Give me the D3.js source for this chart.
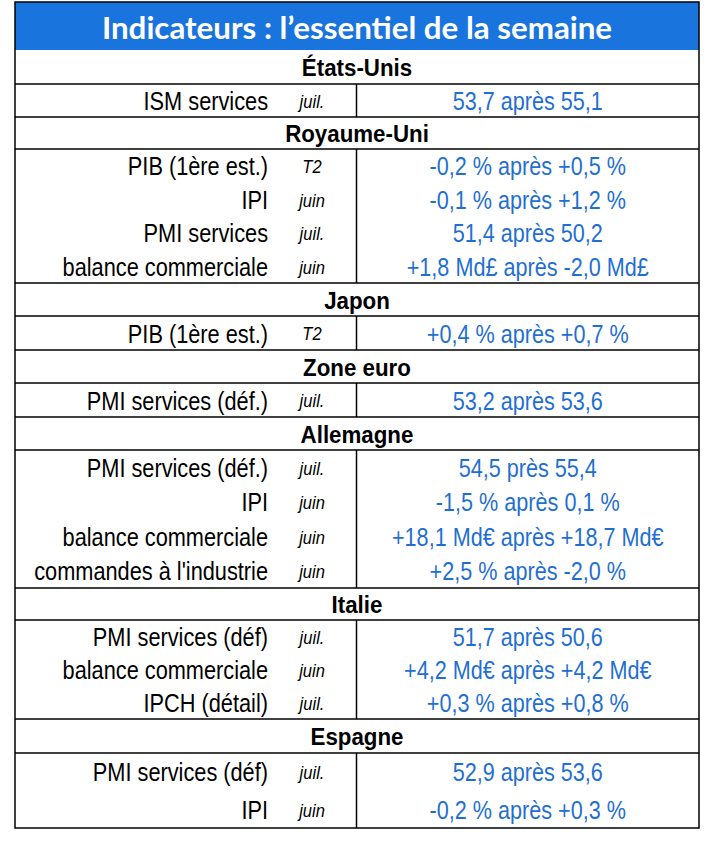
<!DOCTYPE html>
<html><head><meta charset="utf-8">
<script src="https://cdn.jsdelivr.net/npm/d3@7"></script>
<style>
html,body{margin:0;padding:0;background:#fff;}
svg{display:block;}
</style></head>
<body>
<script>
// ---- Data ----
const title = "Indicateurs : l\u2019essentiel de la semaine";
const countries = ["États-Unis","Royaume-Uni","Japon","Zone euro","Allemagne","Italie","Espagne"];
const indicators = [
  ["ISM services"],
  ["PIB (1ère est.)","IPI","PMI services","balance commerciale"],
  ["PIB (1ère est.)"],
  ["PMI services (déf.)"],
  ["PMI services (déf.)","IPI","balance commerciale","commandes à l'industrie"],
  ["PMI services (déf)","balance commerciale","IPCH (détail)"],
  ["PMI services (déf)","IPI"]
];
const periods = [
  ["juil."],
  ["T2","juin","juil.","juin"],
  ["T2"],
  ["juil."],
  ["juil.","juin","juin","juin"],
  ["juil.","juin","juil."],
  ["juil.","juin"]
];
const values = [
  ["53,7 après 55,1"],
  ["-0,2 % après +0,5 %","-0,1 % après +1,2 %","51,4 après 50,2","+1,8 Md£ après -2,0 Md£"],
  ["+0,4 % après +0,7 %"],
  ["53,2 après 53,6"],
  ["54,5 près 55,4","-1,5 % après 0,1 %","+18,1 Md€ après +18,7 Md€","+2,5 % après -2,0 %"],
  ["51,7 après 50,6","+4,2 Md€ après +4,2 Md€","+0,3 % après +0,8 %"],
  ["52,9 après 53,6","-0,2 % après +0,3 %"]
];

// ---- Layout ----
const W = 707, H = 841;
const left = 15, right = 699, divX = 356.5;
const titleTop = 2, titleBottom = 50;
const headerH = [34,32,33,33,33,32,34];
const bodyH = [33,134,34,34,138,99,75];
const blue = "#1a74de", valBlue = "#1f6fd3";
const font = "'Liberation Sans',Arial,sans-serif";

const svg = d3.select("body").append("svg").attr("width", W).attr("height", H);

function txt(x, y, s, opts) {
  const g = svg.append("g").attr("transform", `translate(${x},${y}) scale(${opts.sx||1},1)`);
  return g.append("text").attr("x", 0).attr("y", 0)
    .attr("text-anchor", opts.anchor || "middle").attr("dominant-baseline","central")
    .attr("font-family", opts.family || font)
    .attr("font-weight", opts.weight || "normal")
    .attr("font-style", opts.style || "normal")
    .attr("font-size", opts.size).attr("fill", opts.fill || "#000").text(s);
}

// title bar
svg.append("rect").attr("x", left).attr("y", titleTop).attr("width", right-left).attr("height", titleBottom-titleTop).attr("fill", blue);
txt((left+right)/2, (titleTop+titleBottom)/2+1, title, {family:"Lato,'Open Sans',sans-serif", weight:"bold", size:31.3, fill:"#fff"});

let y = titleBottom;
const lineG = svg.append("g");
countries.forEach((c, i) => {
  const hTop = y, hBot = y + headerH[i];
  txt((left+right)/2, (hTop+hBot)/2+1, c, {weight:"bold", size:24, sx:0.93});
  lineG.append("line").attr("x1", left).attr("x2", right).attr("y1", hBot).attr("y2", hBot)
    .attr("stroke","#000").attr("stroke-width",1.5);
  const bTop = hBot, bBot = hBot + bodyH[i];
  const rowY = d3.scaleBand().domain(d3.range(indicators[i].length)).range([bTop, bBot]);
  indicators[i].forEach((ind, j) => {
    const cy = rowY(j) + rowY.bandwidth()/2 + 1;
    txt(268, cy, ind, {anchor:"end", size:25, sx:0.87});
    txt(312, cy, periods[i][j], {style:"italic", size:19, sx:0.87});
    txt((divX+right)/2, cy, values[i][j], {size:25, sx:0.865, fill:valBlue});
  });
  lineG.append("line").attr("x1", divX).attr("x2", divX).attr("y1", bTop).attr("y2", bBot)
    .attr("stroke","#000").attr("stroke-width",1.5);
  if (i < countries.length-1) {
    lineG.append("line").attr("x1", left).attr("x2", right).attr("y1", bBot).attr("y2", bBot)
      .attr("stroke","#000").attr("stroke-width",1.5);
  }
  y = bBot;
});
// outer border
svg.append("rect").attr("x", left).attr("y", titleTop).attr("width", right-left).attr("height", y-titleTop)
  .attr("fill","none").attr("stroke","#000").attr("stroke-width",1.5);
</script>
</body></html>
